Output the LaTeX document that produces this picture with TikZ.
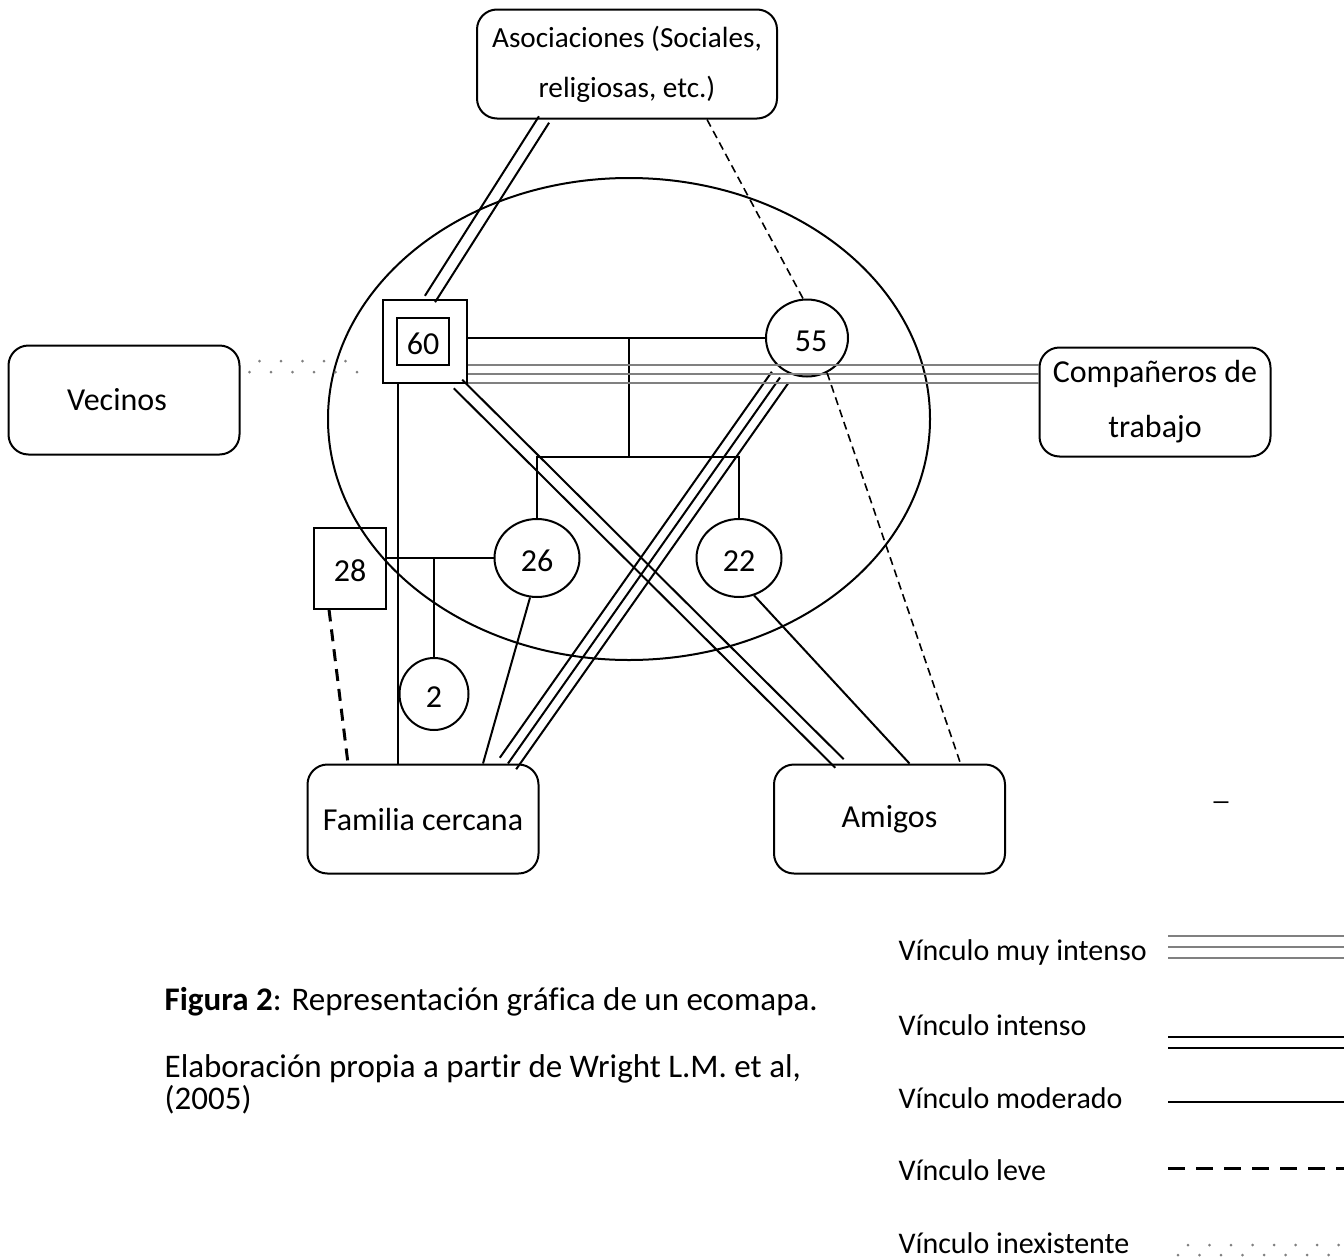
\documentclass[tikz,border=0pt]{standalone}
\usepackage{fontspec}
\setmainfont{Carlito}[Ligatures={NoCommon}]
\usetikzlibrary{calc, positioning, shapes.geometric}

% linea paralela a (A)--(B), desplazada
\newcommand{\paralela}[4][]{\draw[#1] ($(#2)!#4!90:(#3)$) -- ($(#3)!#4!-90:(#2)$);}

\begin{document}
\begin{tikzpicture}[x=0.5pt, y=-0.5pt, line width=1pt,
    caja/.style={draw, rounded corners=10pt, minimum width=115.5pt, minimum height=54.5pt,
        align=center, font=\fontsize{16}{27.5}\selectfont},
    hombre/.style={draw, rectangle, inner sep=0pt, text height=13pt, text depth=0pt, font=\fontsize{16}{19}\selectfont},
    mujer/.style={draw, ellipse, inner sep=0pt, text height=13pt, text depth=0pt, font=\fontsize{16}{19}\selectfont},
    muyintenso/.style={gray, line width=1pt},
    leve/.style={line width=1.5pt, dash pattern=on 6pt off 4pt},
    debil/.style={line width=0.8pt, dash pattern=on 4pt off 2.5pt},
    inexistente/.style={gray, line width=1.5pt, line cap=round, dash pattern=on 0pt off 10.75pt},
    leyenda/.style={anchor=west, font=\fontsize{15}{16}\selectfont},
    pie/.style={anchor=west, align=left, font=\fontsize{16.5}{16}\selectfont}]
    \useasboundingbox (0,0) rectangle (1344,1258);

    % hogar
    \node[draw, ellipse, inner sep=0pt, minimum width=301pt, minimum height=241pt] (hogar) at (629,419) {};

    % sistemas externos
    \node[caja, minimum width=150pt, font=\fontsize{14.6}{25}\selectfont] (asoc) at (627,64) {Asociaciones (Sociales,\\religiosas, etc.)};
    \node[caja]                           (vecinos) at (124,400) {Vecinos\hspace*{7pt}};
    \node[caja]                           (comp)    at (1155,402) {Compañeros de\\trabajo};
    \node[caja]                           (fam)     at (423,819) {Familia cercana};
    \node[caja, right=116.75pt of fam]    (amigos)  {Amigos};

    % miembros
    \node[hombre, minimum width=42pt, minimum height=41.5pt] (n60) at (425,341.5) {};
    \node[hombre, minimum width=26pt, minimum height=23.5pt] (in60) at ([xshift=-1pt]n60.center) {60};
    \node[mujer, minimum width=41pt, minimum height=38.5pt]  (n55) at (807,338) {\hspace*{4pt}55};
    \node[mujer, minimum width=42.5pt, minimum height=39pt]  (n26) at (537,558) {26};
    \node[mujer, minimum width=42.5pt, minimum height=39pt, right=57.5pt of n26] (n22) {22};
    \node[hombre, minimum width=36pt, minimum height=40.5pt] (n28) at (350,568) {28};
    \node[mujer, minimum width=34.5pt, minimum height=36pt]  (n2)  at (434,694) {2};

    % genograma
    \coordinate (barra) at (629,457);
    \draw (n55.west) -- (n55.west -| n60.east);
    \draw (barra |- n55.west) -- (barra);
    \draw (n26.north) |- (barra) -| (n22.north);
    \draw (n26.west) -- (n26.west -| n28.east);
    \draw (n2.north) -- (n2.north |- n26.west);

    % vinculos
    \coordinate (asocA)   at ([xshift=-41.5pt]asoc.south);
    \coordinate (n60A)    at ([xshift=2.5pt]n60.north);
    \paralela{asocA}{n60A}{3pt}
    \paralela{asocA}{n60A}{-3pt}
    \coordinate (n60B)    at ([xshift=-5pt]n60.south east);
    \coordinate (amigosB) at ([xshift=-25pt]amigos.north);
    \paralela{n60B}{amigosB}{3pt}
    \paralela{n60B}{amigosB}{-3pt}
    \coordinate (n55C)    at ([xshift=-13.5pt]n55.south);
    \coordinate (famC)    at ([xshift=42.5pt]fam.north);
    \paralela{n55C}{famC}{5pt}
    \paralela{n55C}{famC}{0pt}
    \paralela{n55C}{famC}{-5pt}

    \coordinate (g1) at ([yshift=-11.75pt]n60.east);
    \coordinate (g2) at ([yshift=-16.25pt]n60.east);
    \coordinate (g3) at ([yshift=-20.75pt]n60.east);
    \draw[muyintenso] (g1) -- (g1 -| comp.west);
    \draw[muyintenso] (g2) -- (g2 -| comp.west);
    \draw[muyintenso] (g3) -- (g3 -| comp.west);

    \draw ([xshift=-13.5pt]n60.south) -- ([xshift=-13.5pt]n60.south |- fam.north);
    \draw[leve] ([xshift=-10.5pt]n28.south) -- ([xshift=-37.5pt]fam.north);
    \draw (n26.-100) -- ([xshift=30pt]fam.north);
    \draw (n22.-68) -- ([xshift=10pt]amigos.north);
    \draw[debil] ([xshift=40pt]asoc.south) -- ([xshift=-2pt]n55.north);
    \draw[debil] (n55.-60) -- ([xshift=35.5pt]amigos.north);

    \coordinate (vA) at ([shift={(9.5pt,19.5pt)}]vecinos.east);
    \coordinate (vB) at ([shift={(4.5pt,14pt)}]vecinos.east);
    \draw[inexistente, shorten >=8pt] (vA) -- (vA -| n60.west);
    \draw[inexistente, shorten >=8pt] (vB) -- (vB -| n60.west);

    \node[font=\fontsize{15}{16}\selectfont] (guion) at (1221,802) {\_};

    % pie de figura
    \node[pie] (figura) at (157,1002) {\textbf{Figura 2}: Representación gráfica de un ecomapa.};
    \node[pie] (fuente) at (157,1084) {Elaboración propia a partir de Wright L.M. et al,\\(2005)};

    % leyenda
    \node[leyenda] (lmuy)  at (891,952)  {Vínculo muy intenso};
    \node[leyenda] (lint)  at (891,1025) {Vínculo intenso};
    \node[leyenda] (lmod)  at (891,1098) {Vínculo moderado};
    \node[leyenda] (llev)  at (891,1170) {Vínculo leve};
    \node[leyenda] (linex) at (891,1243) {Vínculo inexistente};
    \draw[muyintenso] (1168,936) -- (1344,936);
    \draw[muyintenso] (1168,947) -- (1344,947);
    \draw[muyintenso] (1168,958) -- (1344,958);
    \draw (1168,1037) -- (1344,1037);
    \draw (1168,1048) -- (1344,1048);
    \draw (1168,1102) -- (1344,1102);
    \draw[leve, dash pattern=on 8.5pt off 5.5pt] (1168,1168) -- (1344,1168);
    \draw[inexistente] (1188,1245) -- (1344,1245);
    \draw[inexistente] (1178,1255) -- (1344,1255);
\end{tikzpicture}
\end{document}
